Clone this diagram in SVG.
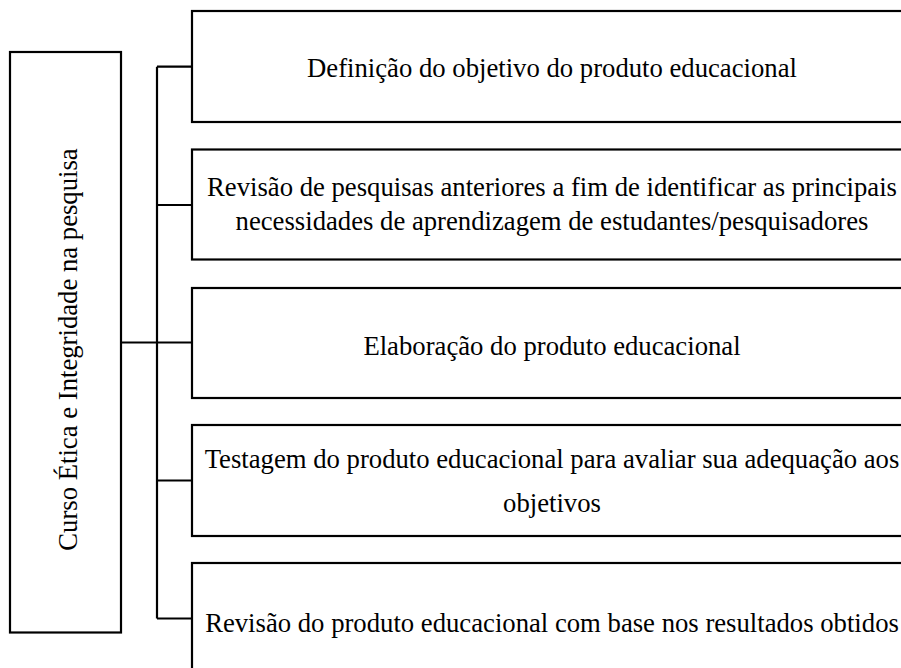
<svg xmlns="http://www.w3.org/2000/svg" width="901" height="668" viewBox="0 0 901 668">
<style>
.box{fill:#fff;stroke:#000;stroke-width:2.2}
.ln{fill:none;stroke:#000;stroke-width:2.2}
.t{font-family:"Liberation Serif","Times New Roman",serif;font-size:26.7px;fill:#000;text-anchor:middle}
</style>
<rect width="901" height="668" fill="#fff"/>
<g id="connectors">
<path class="ln" d="M121 342.5H192M157 66.7V618.5M157 66.7H192M157 205H192M157 480.5H192M157 618.5H192"/>
</g>
<g id="root">
<rect class="box" x="10" y="52" width="111" height="580.5"/>
<text class="t" transform="translate(77,349.5) rotate(-90)">Curso Ética e Integridade na pesquisa</text>
</g>
<g id="n1">
<rect class="box" x="192" y="11" width="720" height="111"/>
<text class="t" x="552" y="76.7">Definição do objetivo do produto educacional</text>
</g>
<g id="n2">
<rect class="box" x="192" y="149.5" width="720" height="110"/>
<text class="t" x="552" y="196">Revisão de pesquisas anteriores a fim de identificar as principais</text>
<text class="t" x="552" y="230">necessidades de aprendizagem de estudantes/pesquisadores</text>
</g>
<g id="n3">
<rect class="box" x="192" y="288" width="720" height="110"/>
<text class="t" x="552" y="355">Elaboração do produto educacional</text>
</g>
<g id="n4">
<rect class="box" x="192" y="425" width="720" height="111"/>
<text class="t" x="552" y="468">Testagem do produto educacional para avaliar sua adequação aos</text>
<text class="t" x="552" y="512">objetivos</text>
</g>
<g id="n5">
<rect class="box" x="192" y="563" width="720" height="111"/>
<text class="t" x="552" y="632">Revisão do produto educacional com base nos resultados obtidos</text>
</g>
</svg>
